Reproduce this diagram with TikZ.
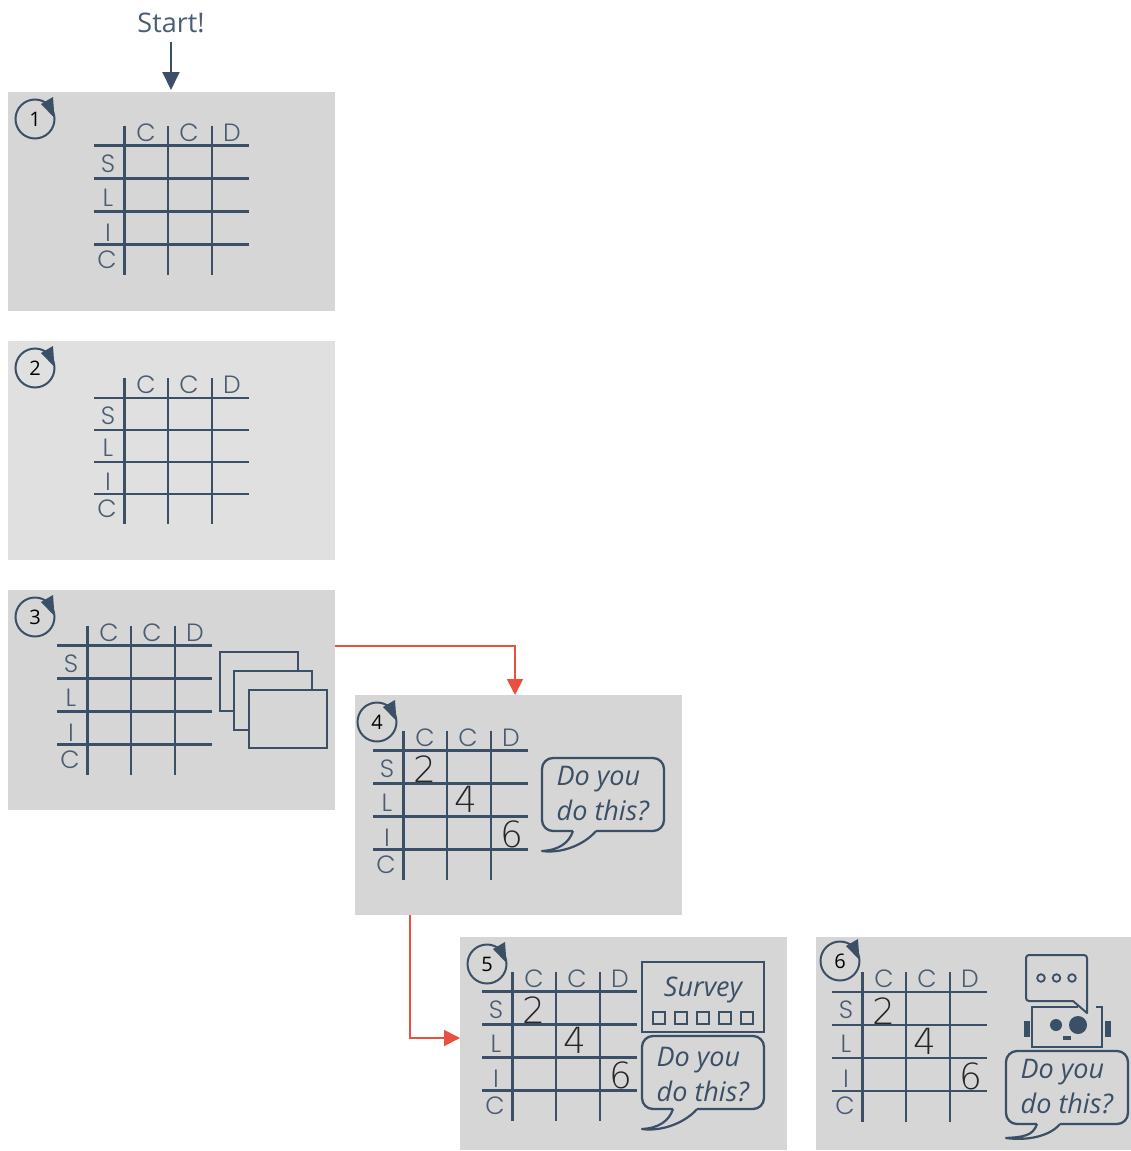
\documentclass[tikz,border=0pt]{standalone}
\usepackage{fontspec}
\usetikzlibrary{arrows.meta}
\setmainfont{Open Sans}
\newfontfamily\gridfont[UprightFont=* Light]{Poppins}
\newfontfamily\handfont[UprightFont=* ExtraLight]{DejaVu Sans}
\definecolor{ink}{HTML}{3B4F66}
\definecolor{labelink}{HTML}{4A5D73}
\definecolor{panelA}{HTML}{D6D6D6}
\definecolor{panelB}{HTML}{E0E0E0}
\definecolor{flowred}{HTML}{E8503F}
\tikzset{
  panel/.style={fill=panelA,draw=none,inner sep=0,outer sep=0,anchor=north west},
  gl/.style={draw=ink,line width=2.3pt,line cap=butt},
  glabel/.style={text=labelink,inner sep=0,font=\gridfont\fontsize{25}{25}\selectfont},
  hand/.style={text=black!85,inner sep=0,font=\handfont\fontsize{36}{36}\selectfont},
  say/.style={text=ink,inner sep=0,font=\itshape\fontsize{27}{27}\selectfont},
  num/.style={text=black,inner sep=0,font=\fontsize{20}{20}\selectfont},
  flow/.style={draw=flowred,line width=1.9pt,-{Triangle[length=16pt,width=16pt]}},
  bubble/.style={draw=ink,line width=2.3pt,fill=panelA,rounded corners=11pt},
}
\newcommand{\sayshift}{0}
% id, x of left end, y of first rule, row step, lower end of the columns
\newcommand{\tablegrid}[5]{%
  \foreach \r in {0,1,2,3} \draw[gl] (#2,{#3+\r*#4}) -- (#2+155,{#3+\r*#4});
  \foreach \c in {30.5,74,118} \draw[gl] (#2+\c,#3-20) -- (#2+\c,#5);
  \node[glabel] (#1h1) at (#2+52,#3-13) {C};
  \node[glabel] (#1h2) at (#2+95,#3-13) {C};
  \node[glabel] (#1h3) at (#2+138,#3-13) {D};
  \node[glabel] (#1r1) at (#2+14,{#3+0.55*#4}) {S};
  \node[glabel] (#1r2) at (#2+14,{#3+1.57*#4}) {L};
  \node[glabel] (#1r3) at (#2+14,{#3+2.63*#4}) {I};
  \node[glabel] (#1r4) at (#2+13,{#3+3.45*#4}) {C};
}
% id, centre x, centre y, digit
\newcommand{\stepmark}[4]{%
  \draw[ink,line width=2pt] (#2,#3) circle[radius=19.5];
  \fill[ink] (#2+18,#3-22) -- (#2+19.5,#3-1) -- (#2+6,#3-15) -- cycle;
  \node[num] (#1) at (#2,#3) {#4};
}
% id, left, top, right, bottom, tail start, tail end, tail tip x, tail tip y
\newcommand{\saybubble}[9]{%
  \draw[bubble] (#2,#3) rectangle (#4,#5);
  \fill[panelA] (#6,#5-2) rectangle (#7,#5+2);
  \draw[ink,line width=2.2pt,fill=panelA,line join=round]
    (#6,#5) .. controls (#6-4,#5+12) and (#6-14,#9-1) .. (#8,#9)
    .. controls (#8+22,#9+3) and (#7-10,#5+12) .. (#7,#5);
  \node[say,anchor=base west] (#1a) at (#2+14.5,#3+27+\sayshift) {Do you};
  \node[say,anchor=base west] (#1b) at (#2+14.5,#3+62+\sayshift) {do this?};
}
\newcommand{\handnums}[3]{%
  \node[hand] (#1n2) at (#2+52,#3+19) {2};
  \node[hand] (#1n4) at (#2+93,#3+49) {4};
  \node[hand] (#1n6) at (#2+139,#3+84) {6};
}
\begin{document}
\begin{tikzpicture}[x=1pt,y=-1pt]
\useasboundingbox (0,0) rectangle (1131,1151);
\node[panel,minimum width=327pt,minimum height=219pt] (p1) at (8,92) {};
\node[panel,fill=panelB,minimum width=327pt,minimum height=219pt] (p2) at (8,341) {};
\node[panel,minimum width=327pt,minimum height=220pt] (p3) at (8,590) {};
\node[panel,minimum width=327pt,minimum height=220pt] (p4) at (355,695) {};
\node[panel,minimum width=327pt,minimum height=213pt] (p5) at (460,937) {};
\node[panel,minimum width=315pt,minimum height=213pt] (p6) at (816,937) {};

\node[text=labelink,inner sep=0,font=\fontsize{27}{27}\selectfont] (start) at (171,23) {Start!};
\draw[draw=ink,line width=1.9pt,-{Triangle[length=18pt,width=17pt]},shorten <=9pt,shorten >=2pt] (start.south) -- (p1.north -| start.south);

\draw[flow] (p3.east |- 0,646) -| (515,0 |- p4.north);
\draw[flow] (410,0 |- p4.south) |- (p5.west |- 0,1038);

\tablegrid{a}{94}{145.5}{33}{275}
\stepmark{m1}{35}{119}{1}
\tablegrid{b}{94}{398}{32}{524}
\stepmark{m2}{35}{368}{2}
\tablegrid{c}{57}{645.5}{33}{775}
\stepmark{m3}{35}{617}{3}
\draw[gl,fill=panelA] (220,652) rectangle (298,711);
\draw[gl,fill=panelA] (234,671) rectangle (312,730);
\draw[gl,fill=panelA] (249,690) rectangle (327,748);

\tablegrid{d}{373}{750.5}{33}{880}
\stepmark{m4}{377}{722}{4}
\handnums{d}{373}{750.5}
\saybubble{s4}{542}{758}{664}{831}{573}{596}{542}{851}

\tablegrid{e}{482}{991.5}{33}{1121}
\stepmark{m5}{487}{964}{5}
\handnums{e}{482}{991.5}
\draw[gl] (642,962) rectangle (764,1032);
\node[say] (sv) at (703,990) {Survey};
\foreach \q in {659,681,703,725,747} \draw[ink,line width=2pt] (\q-6,1012) rectangle (\q+6,1024);
\renewcommand{\sayshift}{3.5}
\saybubble{s5}{642}{1036}{764}{1109}{673}{697}{642}{1129}
\renewcommand{\sayshift}{0}

\tablegrid{f}{832}{992}{33}{1122}
\stepmark{m6}{840}{961}{6}
\handnums{f}{832}{992}
% robot
\fill[ink] (1024,1021) rectangle (1029.5,1037);
\fill[ink] (1105,1021) rectangle (1110.5,1037);
\draw[ink,line width=2pt] (1096,1007) -- (1102,1007) -- (1102,1047) -- (1032,1047) -- (1032,1007) -- (1078,1007);
\fill[ink] (1056,1025) circle[radius=6];
\fill[ink] (1078,1025) circle[radius=9];
\fill[ink] (1063,1036) rectangle (1071,1039.5);
\draw[ink,line width=2pt,line join=round,fill=panelA]
  (1087,1013) -- (1087,958) arc[start angle=0,end angle=-90,radius=3] -- (1029,955)
  arc[start angle=-90,end angle=-180,radius=3] -- (1026,998)
  arc[start angle=180,end angle=90,radius=3] -- (1073,1001) -- cycle;
\foreach \q in {1041,1056.5,1072} \draw[ink,line width=1.8pt] (\q,978) circle[radius=3.8];
\saybubble{s6}{1006}{1051}{1128}{1124}{1037}{1060}{1006}{1138}
\end{tikzpicture}
\end{document}
